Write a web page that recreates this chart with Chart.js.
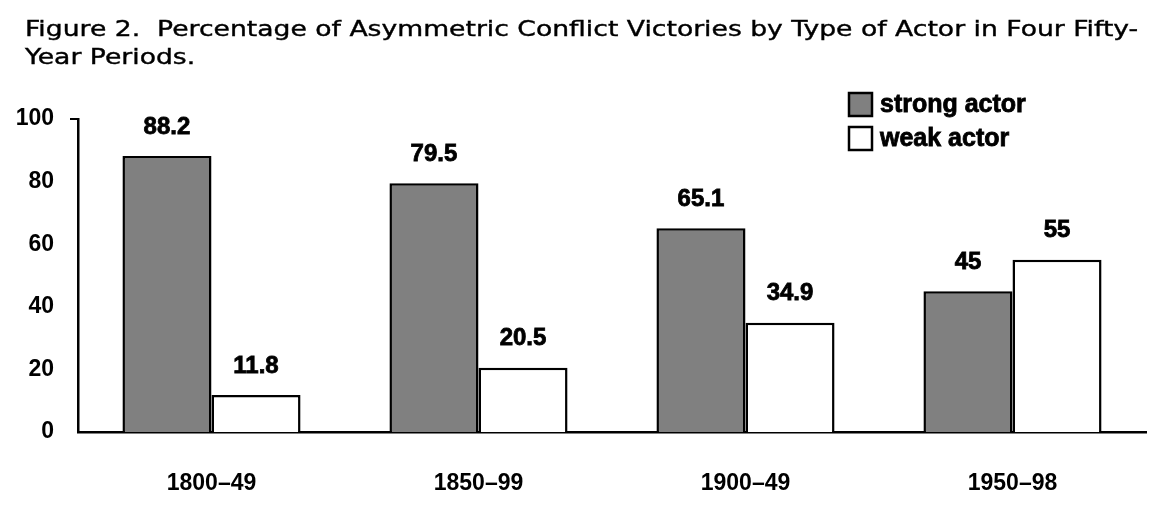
<!DOCTYPE html>
<html>
<head>
<meta charset="utf-8">
<script src="https://cdn.jsdelivr.net/npm/chart.js@4/dist/chart.umd.min.js"></script>
<style>
  body { margin: 0; background: #fff; }
  #wrap { position: relative; width: 1166px; height: 512px; }
  #title {
    position: absolute; left: 25px; top: 15px; width: 930px; white-space: nowrap;
    font-family: "DejaVu Sans", sans-serif; font-size: 22px; line-height: 28px; color: #000;
    -webkit-text-stroke: 0.4px #000;
    transform: scaleX(1.21); transform-origin: left top;
  }
  canvas { position: absolute; left: 0; top: 0; }
</style>
</head>
<body>
<div id="wrap">
  <canvas id="chart" width="1166" height="512"></canvas>
  <div id="title">Figure 2.&nbsp; Percentage of Asymmetric Conflict Victories by Type of Actor in Four Fifty-<br>Year Periods.</div>
</div>
<script>
// ─── data ─────────────────────────────
const periods = ["1800–49", "1850–99", "1900–49", "1950–98"];
const strongActor = [88.2, 79.5, 65.1, 45];
const weakActor = [11.8, 20.5, 34.9, 55];
const yTicks = [0, 20, 40, 60, 80, 100];

const fam = "Liberation Sans, Arial, sans-serif";

// value labels above bars
const valueLabels = {
  id: "valueLabels",
  afterDatasetsDraw(chart) {
    const ctx = chart.ctx;
    ctx.save();
    ctx.font = `bold 24px ${fam}`;
    ctx.fillStyle = "#000";
    ctx.strokeStyle = "#000";
    ctx.lineWidth = 0.8;
    ctx.textAlign = "center";
    ctx.textBaseline = "middle";
    chart.data.datasets.forEach((ds, i) => {
      chart.getDatasetMeta(i).data.forEach((bar, j) => {
        ctx.fillText(String(ds.data[j]), bar.x, bar.y - 29);
        ctx.strokeText(String(ds.data[j]), bar.x, bar.y - 29);
      });
    });
    ctx.restore();
  }
};

// legend box, top right
const boxLegend = {
  id: "boxLegend",
  afterDraw(chart) {
    const ctx = chart.ctx;
    ctx.save();
    ctx.font = `bold 25px ${fam}`;
    ctx.textBaseline = "middle";
    ctx.textAlign = "left";
    chart.data.datasets.forEach((ds, i) => {
      const y = 93 + i * 34;
      ctx.fillStyle = ds.backgroundColor;
      ctx.fillRect(849, y, 23, 23);
      ctx.lineWidth = 2.5;
      ctx.strokeStyle = "#000";
      ctx.strokeRect(849, y, 23, 23);
      ctx.fillStyle = "#000";
      ctx.lineWidth = 0.8;
      ctx.fillText(ds.label, 880, y + 12);
      ctx.strokeText(ds.label, 880, y + 12);
    });
    // small tick at the top of the y axis
    const a = chart.chartArea;
    ctx.lineWidth = 2;
    ctx.beginPath();
    ctx.moveTo(a.left - 8, a.top);
    ctx.lineTo(a.left, a.top);
    ctx.stroke();
    ctx.restore();
  }
};

new Chart(document.getElementById("chart"), {
  type: "bar",
  data: {
    labels: periods,
    datasets: [
      { label: "strong actor", data: strongActor, backgroundColor: "#808080", borderColor: "#000", borderWidth: 2.5 },
      { label: "weak actor", data: weakActor, backgroundColor: "#ffffff", borderColor: "#000", borderWidth: 2.5 }
    ]
  },
  options: {
    responsive: false,
    animation: false,
    layout: { padding: { top: 119, right: 20, left: 0, bottom: 0 } },
    datasets: { bar: { categoryPercentage: 0.667, barPercentage: 1.0 } },
    plugins: { legend: { display: false }, title: { display: false }, tooltip: { enabled: false } },
    scales: {
      x: {
        grid: { display: false, drawTicks: false },
        border: { display: true, color: "#000", width: 2.5 },
        ticks: { color: "#000", font: { family: fam, size: 23, weight: "bold" }, padding: 38 },
        afterFit(scale) { scale.height = 80; }
      },
      y: {
        min: 0, max: 100,
        grid: { display: false, drawTicks: false },
        border: { display: true, color: "#000", width: 2.5 },
        afterBuildTicks(scale) { scale.ticks = yTicks.map(v => ({ value: v })); },
        ticks: { color: "#000", font: { family: fam, size: 23, weight: "bold" }, padding: 24 },
        afterFit(scale) { scale.width = 78; }
      }
    }
  },
  plugins: [valueLabels, boxLegend]
});
</script>
</body>
</html>
